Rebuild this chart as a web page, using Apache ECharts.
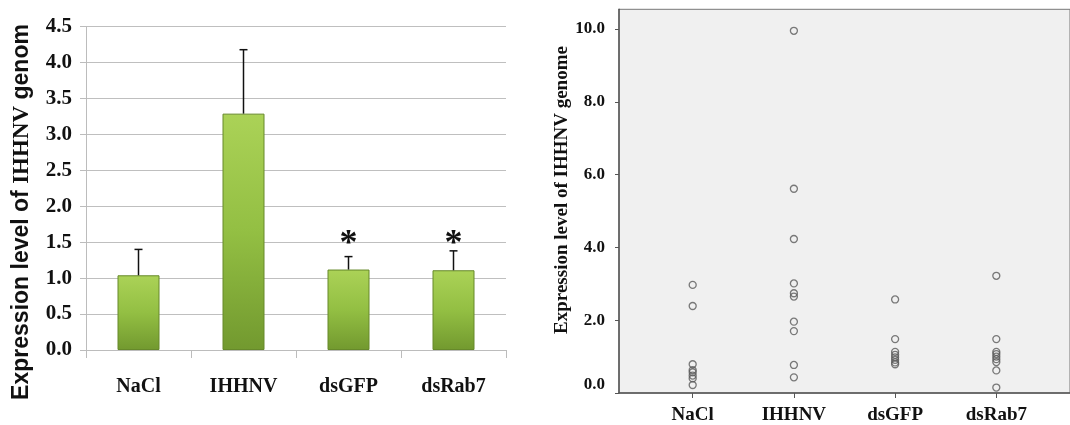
<!DOCTYPE html>
<html><head><meta charset="utf-8">
<script src="https://cdn.jsdelivr.net/npm/echarts@6/dist/echarts.min.js"></script>
<style>html,body{margin:0;padding:0;background:#fff}#c{width:1070px;height:425px}</style>
</head><body><div id="c"></div>
<script>
// ---- data ----
const categories = ['NaCl', 'IHHNV', 'dsGFP', 'dsRab7'];
const meanValues = [1.04, 3.29, 1.12, 1.11];
const errUpper = [1.40, 4.18, 1.30, 1.38];
const sigMarks = ['', '', '*', '*'];
const sigLevel = 1.47;
const naclPoints = [2.97, 2.39, 0.79, 0.63, 0.57, 0.48, 0.40, 0.22];
const ihhnvPoints = [9.95, 5.61, 4.23, 3.01, 2.74, 2.65, 1.96, 1.70, 0.77, 0.43];
const dsgfpPoints = [2.57, 1.48, 1.13, 1.05, 0.98, 0.91, 0.84, 0.79];
const dsrab7Points = [3.22, 1.48, 1.13, 1.07, 1.00, 0.93, 0.85, 0.62, 0.15];
const scatterTicks = [0, 2, 4, 6, 8, 10];
const leftTitle = ['Expression level of ', 'IHHNV', ' genom'];
const rightTitle = 'Expression level of IHHNV genome';

const SERIF = "'Liberation Serif','Times New Roman',serif";
const SANS = "'Liberation Sans',Arial,sans-serif";

const groups = [naclPoints, ihhnvPoints, dsgfpPoints, dsrab7Points];
const scatterData = [];
groups.forEach((g, i) => g.forEach(v => scatterData.push([i, v])));

const chart = echarts.init(document.getElementById('c'), null, {renderer: 'canvas'});
chart.setOption({
  animation: false,
  backgroundColor: '#ffffff',
  grid: [
    {left: 86, top: 26.7, width: 420, height: 323.3},
    {left: 619, top: 9.3, width: 459, height: 383.7, show: true, backgroundColor: '#f0f0f0', borderColor: '#777', borderWidth: 1}
  ],
  xAxis: [
    {
      gridIndex: 0, type: 'category', data: categories, boundaryGap: true,
      axisLine: {lineStyle: {color: '#bcbcbc', width: 1}},
      axisTick: {show: true, alignWithLabel: false, length: 8, lineStyle: {color: '#bcbcbc'}},
      axisLabel: {margin: 27, color: '#111', fontFamily: SERIF, fontWeight: 'bold', fontSize: 20}
    },
    {
      gridIndex: 1, type: 'value', min: -0.728, max: 3.728,
      splitLine: {show: false},
      axisLine: {onZero: false, lineStyle: {color: '#555', width: 1.5}},
      axisTick: {show: true, length: 5, customValues: [0, 1, 2, 3], lineStyle: {color: '#555'}},
      axisLabel: {customValues: [0, 1, 2, 3], formatter: v => categories[Math.round(v)], margin: 13,
        color: '#111', fontFamily: SERIF, fontWeight: 'bold', fontSize: 19}
    }
  ],
  yAxis: [
    {
      gridIndex: 0, type: 'value', min: 0, max: 4.5, interval: 0.5,
      axisLine: {show: true, lineStyle: {color: '#bcbcbc', width: 1}},
      axisTick: {show: true, length: 6, lineStyle: {color: '#bcbcbc'}},
      splitLine: {lineStyle: {color: '#bfbfbf', width: 1}},
      axisLabel: {formatter: v => v.toFixed(1), margin: 14, color: '#111', fontFamily: SERIF, fontWeight: 'bold', fontSize: 21}
    },
    {
      gridIndex: 1, type: 'value', min: 0, max: 10.54,
      splitLine: {show: false},
      axisLine: {show: true, onZero: false, lineStyle: {color: '#555', width: 1.5}},
      axisTick: {show: true, length: 4, customValues: scatterTicks, lineStyle: {color: '#555'}},
      axisLabel: {customValues: scatterTicks, formatter: v => v.toFixed(1), margin: 14,
        verticalAlignMinLabel: 'bottom', verticalAlignMaxLabel: 'middle',
        color: '#111', fontFamily: SERIF, fontWeight: 'bold', fontSize: 17}
    }
  ],
  series: [
    {
      type: 'bar', xAxisIndex: 0, yAxisIndex: 0, data: meanValues, barWidth: 42,
      itemStyle: {
        color: new echarts.graphic.LinearGradient(0, 0, 0, 1, [
          {offset: 0, color: '#abd257'}, {offset: 0.5, color: '#93bf43'}, {offset: 1, color: '#72992f'}
        ]),
        borderColor: '#66892a', borderWidth: 1
      }
    },
    {
      type: 'custom', xAxisIndex: 0, yAxisIndex: 0, z: 5,
      data: categories.map((c, i) => [i, meanValues[i], errUpper[i]]),
      encode: {x: 0, y: [1, 2]},
      renderItem: (params, api) => {
        const i = api.value(0);
        const p0 = api.coord([i, api.value(1)]);
        const p1 = api.coord([i, api.value(2)]);
        return {type: 'group', children: [
          {type: 'line', shape: {x1: p0[0], y1: p0[1], x2: p1[0], y2: p1[1]}, style: {stroke: '#111', lineWidth: 1.5}},
          {type: 'line', shape: {x1: p1[0] - 4, y1: p1[1], x2: p1[0] + 4, y2: p1[1]}, style: {stroke: '#111', lineWidth: 1.5}}
        ]};
      }
    },
    {
      type: 'custom', xAxisIndex: 0, yAxisIndex: 0, z: 6,
      data: categories.map((c, i) => [i, sigLevel]),
      renderItem: (params, api) => {
        const i = api.value(0);
        const p = api.coord([i, api.value(1)]);
        return {type: 'text', x: p[0], y: p[1], style: {text: sigMarks[i], fill: '#111',
          font: "bold 36px " + SERIF, textAlign: 'center', textVerticalAlign: 'middle'}};
      }
    },
    {
      type: 'scatter', xAxisIndex: 1, yAxisIndex: 1, data: scatterData, symbol: 'circle', symbolSize: 7,
      itemStyle: {color: 'rgba(0,0,0,0)', borderColor: '#5a5a5a', borderWidth: 1.3}
    }
  ],
  graphic: [
    {
      type: 'text', x: 22, y: 212, rotation: Math.PI / 2,
      style: {
        text: '{a|' + leftTitle[0] + '}{b|' + leftTitle[1] + '}{a|' + leftTitle[2] + '}',
        align: 'center', verticalAlign: 'middle', fill: '#111',
        rich: {
          a: {fontFamily: SANS, fontWeight: 'bold', fontSize: 23, fill: '#111'},
          b: {fontFamily: SERIF, fontWeight: 'bold', fontSize: 23, fill: '#111'}
        }
      }
    },
    {
      type: 'text', x: 562, y: 190, rotation: Math.PI / 2,
      style: {text: rightTitle, align: 'center', verticalAlign: 'middle', fill: '#111',
        font: "bold 19px " + SERIF}
    }
  ]
});
</script></body></html>
